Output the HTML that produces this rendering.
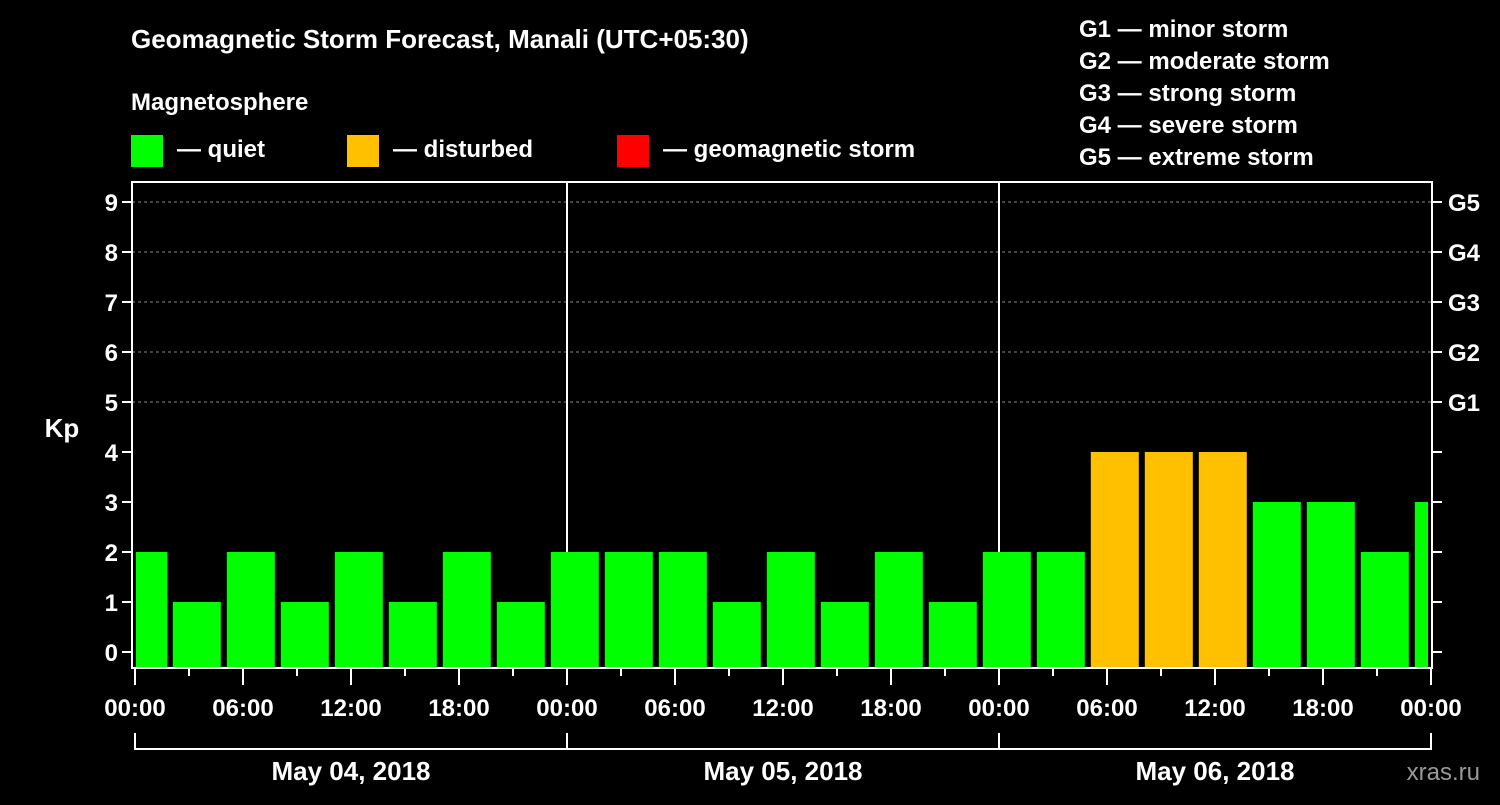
<!DOCTYPE html>
<html><head><meta charset="utf-8"><style>
body{margin:0;background:#000;width:1500px;height:800px;overflow:hidden}
svg text{font-family:"Liberation Sans",sans-serif;font-weight:bold;fill:#fff}
</style></head><body>
<svg id="chart" width="1500" height="800" xmlns="http://www.w3.org/2000/svg">
<text x="131" y="48" font-size="26">Geomagnetic Storm Forecast, Manali (UTC+05:30)</text>
<text x="131" y="110" font-size="24">Magnetosphere</text>
<g><rect x="131" y="135" width="32" height="32" fill="#00ff00"/><text x="177" y="157" font-size="24">— quiet</text></g>
<g><rect x="347" y="135" width="32" height="32" fill="#ffc000"/><text x="393" y="157" font-size="24">— disturbed</text></g>
<g><rect x="617" y="135" width="32" height="32" fill="#ff0000"/><text x="663" y="157" font-size="24">— geomagnetic storm</text></g>
<g font-size="24">
<text x="1079" y="37">G1 — minor storm</text>
<text x="1079" y="69">G2 — moderate storm</text>
<text x="1079" y="101">G3 — strong storm</text>
<text x="1079" y="133">G4 — severe storm</text>
<text x="1079" y="165">G5 — extreme storm</text>
</g>
<g id="grid"></g>
<g id="bars"></g>
<g id="axes"></g>
<text x="62" y="437" font-size="26" text-anchor="middle">Kp</text>
<text x="1480" y="780" font-size="24" text-anchor="end" fill="#888" style="fill:#999;font-weight:normal">xras.ru</text>
</svg>
<script>
const kpValues=[2,1,2,1,2,1,2,1,2,2,2,1,2,1,2,1,2,2,4,4,4,3,3,2,3];
const yTicks=[0,1,2,3,4,5,6,7,8,9];
const gLabels=["G1","G2","G3","G4","G5"];
const timeLabels=["00:00","06:00","12:00","18:00","00:00","06:00","12:00","18:00","00:00","06:00","12:00","18:00","00:00"];
const dayLabels=["May 04, 2018","May 05, 2018","May 06, 2018"];
const NS="http://www.w3.org/2000/svg";
const L=132,R=1432,T=182,B=668,X0=135,DAY=432;
const y=v=>652-50*v;
const xh=h=>X0+h*DAY/24; // hours from start
function mk(p,tag,a){const e=document.createElementNS(NS,tag);for(const k in a)e.setAttribute(k,a[k]);p.appendChild(e);return e;}
const grid=document.getElementById('grid'),bars=document.getElementById('bars'),axes=document.getElementById('axes');
for(let v=5;v<=9;v++){const l=mk(grid,'line',{x1:L,x2:R,y1:y(v),y2:y(v),stroke:'#888','stroke-dasharray':'3,3','stroke-width':1});

}
for(let d=1;d<3;d++){const l=mk(grid,'line',{x1:xh(24*d),x2:xh(24*d),y1:T,y2:B,stroke:'#fff','stroke-width':2});

}
// bars: first partial bar then 3h slots offset by 2h
kpValues.forEach((v,i)=>{
 let s,e;
 if(i===0){s=0;e=1.8;} else {s=2+3*(i-1)+0.1;e=s+2.667;}
 let x1=xh(s)+(i===0?1:0),x2=Math.min(xh(e),R-4);
 const r=mk(bars,'rect',{x:x1,y:y(v),width:x2-x1,height:B-y(v),fill:v>=5?'#ff0000':v>=4?'#ffc000':'#00ff00'});
 
 
});
mk(axes,'rect',{x:L,y:T,width:R-L,height:B-T,fill:'none',stroke:'#fff','stroke-width':2});
yTicks.forEach(v=>{
 mk(axes,'line',{x1:L-10,x2:L,y1:y(v),y2:y(v),stroke:'#fff','stroke-width':2});
 mk(axes,'line',{x1:R,x2:R+10,y1:y(v),y2:y(v),stroke:'#fff','stroke-width':2});
 const t=mk(axes,'text',{x:L-14,y:y(v)+9,'font-size':24,'text-anchor':'end'});t.textContent=v;
 
 
});
gLabels.forEach((g,i)=>{const t=mk(axes,'text',{x:1448,y:y(5+i)+9,'font-size':24});t.textContent=g;
 
 });
for(let h=0;h<=72;h+=3){const maj=h%6===0;mk(axes,'line',{x1:xh(h),x2:xh(h),y1:B,y2:B+(maj?17:8),stroke:'#fff','stroke-width':2});}
timeLabels.forEach((s,i)=>{const t=mk(axes,'text',{x:xh(6*i),y:716,'font-size':24,'text-anchor':'middle'});t.textContent=s;
 
 });
dayLabels.forEach((s,i)=>{
 const a=xh(24*i),b=xh(24*(i+1));
 mk(axes,'path',{d:`M${a} 733V749H${b}V733`,fill:'none',stroke:'#fff','stroke-width':2});
 const t=mk(axes,'text',{x:(a+b)/2,y:780,'font-size':26,'text-anchor':'middle'});t.textContent=s;
 
 
});
</script>
</body></html>
